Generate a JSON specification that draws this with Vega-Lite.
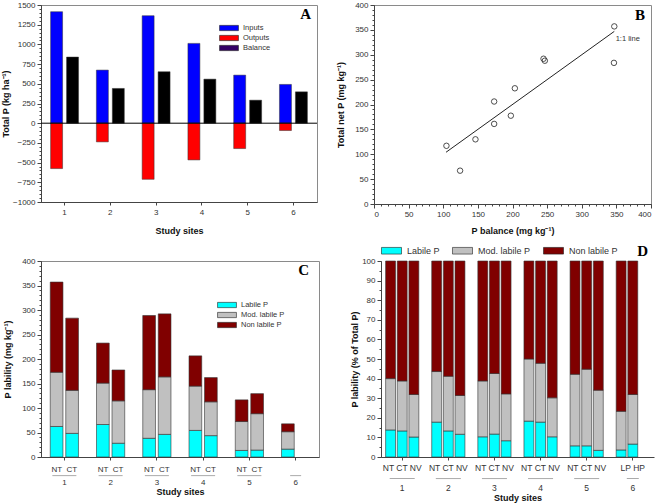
{
  "$schema": "https://vega.github.io/schema/vega-lite/v6.json",
  "background": "white",
  "padding": {"left": 1, "top": 0, "right": 2, "bottom": 2},
  "spacing": 8,
  "resolve": {"scale": {"color": "independent"}, "legend": {"color": "independent"}},
  "datasets": {
    "a": [
      {"site": "1", "flow": "Inputs", "value": 1415}, {"site": "2", "flow": "Inputs", "value": 674},
      {"site": "3", "flow": "Inputs", "value": 1364}, {"site": "4", "flow": "Inputs", "value": 1013},
      {"site": "5", "flow": "Inputs", "value": 610}, {"site": "6", "flow": "Inputs", "value": 492},
      {"site": "1", "flow": "Outputs", "value": -576}, {"site": "2", "flow": "Outputs", "value": -237},
      {"site": "3", "flow": "Outputs", "value": -712}, {"site": "4", "flow": "Outputs", "value": -466},
      {"site": "5", "flow": "Outputs", "value": -322}, {"site": "6", "flow": "Outputs", "value": -93},
      {"site": "1", "flow": "Balance", "value": 839}, {"site": "2", "flow": "Balance", "value": 441},
      {"site": "3", "flow": "Balance", "value": 653}, {"site": "4", "flow": "Balance", "value": 559},
      {"site": "5", "flow": "Balance", "value": 292}, {"site": "6", "flow": "Balance", "value": 398}
    ],
    "b": [
      {"balance": 104.6, "net": 117}, {"balance": 124.3, "net": 67}, {"balance": 146.5, "net": 130},
      {"balance": 173.5, "net": 206}, {"balance": 173.5, "net": 161}, {"balance": 197.6, "net": 177.5},
      {"balance": 203.4, "net": 232.6}, {"balance": 244.8, "net": 292}, {"balance": 246.7, "net": 288},
      {"balance": 347, "net": 357}, {"balance": 346.5, "net": 283.7}
    ],
    "c": [
      {"site": "1", "treatment": "NT", "fraction": "Labile P", "value": 62.3},
      {"site": "1", "treatment": "NT", "fraction": "Mod. labile P", "value": 110.6},
      {"site": "1", "treatment": "NT", "fraction": "Non labile P", "value": 184.1},
      {"site": "1", "treatment": "CT", "fraction": "Labile P", "value": 48.2},
      {"site": "1", "treatment": "CT", "fraction": "Mod. labile P", "value": 87.8},
      {"site": "1", "treatment": "CT", "fraction": "Non labile P", "value": 147.4},
      {"site": "2", "treatment": "NT", "fraction": "Labile P", "value": 66.3},
      {"site": "2", "treatment": "NT", "fraction": "Mod. labile P", "value": 84.5},
      {"site": "2", "treatment": "NT", "fraction": "Non labile P", "value": 81.7},
      {"site": "2", "treatment": "CT", "fraction": "Labile P", "value": 28.1},
      {"site": "2", "treatment": "CT", "fraction": "Mod. labile P", "value": 86.5},
      {"site": "2", "treatment": "CT", "fraction": "Non labile P", "value": 63.0},
      {"site": "3", "treatment": "NT", "fraction": "Labile P", "value": 38.2},
      {"site": "3", "treatment": "NT", "fraction": "Mod. labile P", "value": 99.2},
      {"site": "3", "treatment": "NT", "fraction": "Non labile P", "value": 151.4},
      {"site": "3", "treatment": "CT", "fraction": "Labile P", "value": 46.2},
      {"site": "3", "treatment": "CT", "fraction": "Mod. labile P", "value": 117.3},
      {"site": "3", "treatment": "CT", "fraction": "Non labile P", "value": 128.6},
      {"site": "4", "treatment": "NT", "fraction": "Labile P", "value": 54.3},
      {"site": "4", "treatment": "NT", "fraction": "Mod. labile P", "value": 90.4},
      {"site": "4", "treatment": "NT", "fraction": "Non labile P", "value": 61.7},
      {"site": "4", "treatment": "CT", "fraction": "Labile P", "value": 43.6},
      {"site": "4", "treatment": "CT", "fraction": "Mod. labile P", "value": 69.0},
      {"site": "4", "treatment": "CT", "fraction": "Non labile P", "value": 49.5},
      {"site": "5", "treatment": "NT", "fraction": "Labile P", "value": 13.4},
      {"site": "5", "treatment": "NT", "fraction": "Mod. labile P", "value": 59.0},
      {"site": "5", "treatment": "NT", "fraction": "Non labile P", "value": 44.2},
      {"site": "5", "treatment": "CT", "fraction": "Labile P", "value": 14.1},
      {"site": "5", "treatment": "CT", "fraction": "Mod. labile P", "value": 74.3},
      {"site": "5", "treatment": "CT", "fraction": "Non labile P", "value": 40.9},
      {"site": "6", "treatment": "all", "fraction": "Labile P", "value": 16.1},
      {"site": "6", "treatment": "all", "fraction": "Mod. labile P", "value": 35.5},
      {"site": "6", "treatment": "all", "fraction": "Non labile P", "value": 16.1}
    ],
    "d": [
      {"site": "1", "treatment": "NT", "fraction": "Labile P", "value": 13.8},
      {"site": "1", "treatment": "NT", "fraction": "Mod. labile P", "value": 26.2},
      {"site": "1", "treatment": "NT", "fraction": "Non labile P", "value": 60.0},
      {"site": "1", "treatment": "CT", "fraction": "Labile P", "value": 13.3},
      {"site": "1", "treatment": "CT", "fraction": "Mod. labile P", "value": 25.5},
      {"site": "1", "treatment": "CT", "fraction": "Non labile P", "value": 61.2},
      {"site": "1", "treatment": "NV", "fraction": "Labile P", "value": 10.2},
      {"site": "1", "treatment": "NV", "fraction": "Mod. labile P", "value": 21.7},
      {"site": "1", "treatment": "NV", "fraction": "Non labile P", "value": 68.1},
      {"site": "2", "treatment": "NT", "fraction": "Labile P", "value": 17.8},
      {"site": "2", "treatment": "NT", "fraction": "Mod. labile P", "value": 25.8},
      {"site": "2", "treatment": "NT", "fraction": "Non labile P", "value": 56.4},
      {"site": "2", "treatment": "CT", "fraction": "Labile P", "value": 13.3},
      {"site": "2", "treatment": "CT", "fraction": "Mod. labile P", "value": 27.9},
      {"site": "2", "treatment": "CT", "fraction": "Non labile P", "value": 58.8},
      {"site": "2", "treatment": "NV", "fraction": "Labile P", "value": 11.6},
      {"site": "2", "treatment": "NV", "fraction": "Mod. labile P", "value": 19.8},
      {"site": "2", "treatment": "NV", "fraction": "Non labile P", "value": 68.6},
      {"site": "3", "treatment": "NT", "fraction": "Labile P", "value": 10.3},
      {"site": "3", "treatment": "NT", "fraction": "Mod. labile P", "value": 28.5},
      {"site": "3", "treatment": "NT", "fraction": "Non labile P", "value": 61.2},
      {"site": "3", "treatment": "CT", "fraction": "Labile P", "value": 11.7},
      {"site": "3", "treatment": "CT", "fraction": "Mod. labile P", "value": 30.9},
      {"site": "3", "treatment": "CT", "fraction": "Non labile P", "value": 57.4},
      {"site": "3", "treatment": "NV", "fraction": "Labile P", "value": 8.3},
      {"site": "3", "treatment": "NV", "fraction": "Mod. labile P", "value": 23.9},
      {"site": "3", "treatment": "NV", "fraction": "Non labile P", "value": 67.8},
      {"site": "4", "treatment": "NT", "fraction": "Labile P", "value": 18.3},
      {"site": "4", "treatment": "NT", "fraction": "Mod. labile P", "value": 31.7},
      {"site": "4", "treatment": "NT", "fraction": "Non labile P", "value": 50.0},
      {"site": "4", "treatment": "CT", "fraction": "Labile P", "value": 17.8},
      {"site": "4", "treatment": "CT", "fraction": "Mod. labile P", "value": 30.0},
      {"site": "4", "treatment": "CT", "fraction": "Non labile P", "value": 52.2},
      {"site": "4", "treatment": "NV", "fraction": "Labile P", "value": 10.3},
      {"site": "4", "treatment": "NV", "fraction": "Mod. labile P", "value": 19.9},
      {"site": "4", "treatment": "NV", "fraction": "Non labile P", "value": 69.8},
      {"site": "5", "treatment": "NT", "fraction": "Labile P", "value": 5.7},
      {"site": "5", "treatment": "NT", "fraction": "Mod. labile P", "value": 36.5},
      {"site": "5", "treatment": "NT", "fraction": "Non labile P", "value": 57.8},
      {"site": "5", "treatment": "CT", "fraction": "Labile P", "value": 5.7},
      {"site": "5", "treatment": "CT", "fraction": "Mod. labile P", "value": 39.1},
      {"site": "5", "treatment": "CT", "fraction": "Non labile P", "value": 55.2},
      {"site": "5", "treatment": "NV", "fraction": "Labile P", "value": 3.4},
      {"site": "5", "treatment": "NV", "fraction": "Mod. labile P", "value": 30.7},
      {"site": "5", "treatment": "NV", "fraction": "Non labile P", "value": 65.9},
      {"site": "6", "treatment": "LP", "fraction": "Labile P", "value": 3.6},
      {"site": "6", "treatment": "LP", "fraction": "Mod. labile P", "value": 19.7},
      {"site": "6", "treatment": "LP", "fraction": "Non labile P", "value": 76.7},
      {"site": "6", "treatment": "HP", "fraction": "Labile P", "value": 6.6},
      {"site": "6", "treatment": "HP", "fraction": "Mod. labile P", "value": 25.3},
      {"site": "6", "treatment": "HP", "fraction": "Non labile P", "value": 68.1}
    ]
  },
  "vconcat": [
    {
      "spacing": 18,
      "resolve": {"scale": {"color": "independent"}, "legend": {"color": "independent"}},
      "hconcat": [
        {
          "width": 276,
          "height": 197,
          "title": {"text": "A", "dy": 25, "dx": -6},
          "layer": [
            {
              "data": {"name": "a"},
              "transform": [{"filter": "datum.flow != 'Balance'"}],
              "mark": {"type": "bar", "stroke": "#333", "strokeWidth": 0.5},
              "encoding": {
                "x": {"field": "site", "type": "nominal", "scale": {"domain": ["1", "2", "3", "4", "5", "6"], "paddingInner": 0.39, "paddingOuter": 0.21}, "axis": {"title": "Study sites", "labelAngle": 0, "tickSize": 3, "labelPadding": 3, "titlePadding": 10}},
                "xOffset": {"datum": "left", "scale": {"domain": ["left", "right"], "paddingInner": 0.25, "paddingOuter": 0}},
                "y": {"field": "value", "type": "quantitative", "stack": null, "scale": {"domain": [-1000, 1500], "nice": false}, "axis": {"orient": "left", "title": "Total P (kg ha⁻¹)", "format": "d", "values": [-1000, -750, -500, -250, 0, 250, 500, 750, 1000, 1250, 1500], "titlePadding": 2}},
                "color": {"field": "flow", "type": "nominal", "scale": {"domain": ["Inputs", "Outputs", "Balance"], "range": ["#0000ff", "#ff0000", "#330066"]}, "legend": {"title": null, "orient": "none", "legendX": 184, "legendY": 19, "symbolType": "M-2.7,-0.75H2.7V0.75H-2.7Z", "symbolSize": 49, "rowPadding": 2, "labelOffset": 10, "labelFontSize": 7.5}}
              }
            },
            {
              "data": {"name": "a"},
              "transform": [{"filter": "datum.flow == 'Balance'"}],
              "mark": {"type": "bar", "color": "#000000", "stroke": "#333", "strokeWidth": 0.5},
              "encoding": {
                "x": {"field": "site", "type": "nominal"},
                "xOffset": {"datum": "right"},
                "y": {"field": "value", "type": "quantitative", "stack": null, "axis": null}
              }
            },
            {
              "data": {"values": [{}]},
              "mark": {"type": "rule", "color": "#000000", "strokeWidth": 1},
              "encoding": {
                "y": {"datum": 0, "type": "quantitative", "axis": {"orient": "left", "tickCount": 50, "labels": false, "domain": false, "title": null, "tickSize": 2}}
              }
            }
          ],
          "resolve": {"axis": {"y": "independent"}}
        },
        {
          "width": 277,
          "height": 199,
          "title": {"text": "B", "dy": 26, "dx": -6},
          "layer": [
            {
              "data": {"name": "b"},
              "mark": {"type": "point", "shape": "circle", "filled": false, "stroke": "#222", "strokeWidth": 0.8, "size": 30, "opacity": 1},
              "encoding": {
                "x": {"field": "balance", "type": "quantitative", "scale": {"domain": [0, 400], "nice": false}, "axis": {"orient": "bottom", "title": "P balance (mg kg⁻¹)", "values": [0, 50, 100, 150, 200, 250, 300, 350, 400], "titlePadding": 8}},
                "y": {"field": "net", "type": "quantitative", "scale": {"domain": [0, 400], "nice": false}, "axis": {"orient": "left", "title": "Total net P (mg kg⁻¹)", "values": [0, 50, 100, 150, 200, 250, 300, 350, 400], "titlePadding": 9}}
              }
            },
            {
              "data": {"values": [{"balance": 104, "net": 104}, {"balance": 347, "net": 347}]},
              "mark": {"type": "line", "color": "#222", "strokeWidth": 1},
              "encoding": {
                "x": {"field": "balance", "type": "quantitative", "axis": {"orient": "bottom", "tickCount": 40, "labels": false, "domain": false, "title": null, "tickSize": 2}},
                "y": {"field": "net", "type": "quantitative", "axis": {"orient": "left", "tickCount": 40, "labels": false, "domain": false, "title": null, "tickSize": 2}}
              }
            },
            {
              "data": {"values": [{"label": "1:1 line", "balance": 349, "net": 331}]},
              "mark": {"type": "text", "align": "left", "baseline": "middle", "font": "Liberation Sans", "fontSize": 7.5, "color": "#333"},
              "encoding": {
                "x": {"field": "balance", "type": "quantitative", "axis": null},
                "y": {"field": "net", "type": "quantitative", "axis": null},
                "text": {"field": "label"}
              }
            }
          ],
          "resolve": {"axis": {"x": "independent", "y": "independent"}}
        }
      ]
    },
    {
      "spacing": 30,
      "resolve": {"scale": {"color": "independent"}, "legend": {"color": "independent"}},
      "hconcat": [
        {
          "width": 278,
          "height": 196,
          "title": {"text": "C", "dy": 25, "dx": -10},
          "layer": [
            {
              "data": {"name": "c"},
              "transform": [{"filter": "datum.site != '6'"}],
              "mark": {"type": "bar", "stroke": "#333", "strokeWidth": 0.6},
              "encoding": {
                "x": {"field": "site", "type": "nominal", "scale": {"domain": ["1", "2", "3", "4", "5", "6"], "paddingInner": 0.39, "paddingOuter": 0.2}, "axis": {"orient": "bottom", "title": "Study sites", "labelAngle": 0, "tickSize": 3, "labelPadding": 5, "labelLineHeight": 13, "titlePadding": 1.5, "labelExpr": "datum.value == '6' ? ['', '6\u00a0\u00a0\u00a0\u00a0\u00a0\u00a0'] : ['NT\u00a0\u00a0CT', datum.value]"}},
                "xOffset": {"field": "treatment", "type": "nominal", "scale": {"domain": ["NT", "CT"], "paddingInner": 0.18, "paddingOuter": 0}},
                "y": {"field": "value", "type": "quantitative", "stack": "zero", "scale": {"domain": [0, 400], "nice": false}, "axis": {"orient": "left", "title": "P lability (mg kg⁻¹)", "values": [0, 50, 100, 150, 200, 250, 300, 350, 400], "titlePadding": 9}},
                "color": {"field": "fraction", "type": "nominal", "scale": {"domain": ["Labile P", "Mod. labile P", "Non labile P"], "range": ["#00ffff", "#c0c0c0", "#800000"]}, "legend": {"title": null, "orient": "none", "legendX": 182, "legendY": 40, "symbolType": "M-2.7,-0.75H2.7V0.75H-2.7Z", "symbolSize": 49, "rowPadding": 2, "labelOffset": 10, "labelFontSize": 7.5}},
                "order": {"field": "fraction", "type": "ordinal", "sort": "ascending"}
              }
            },
            {
              "data": {"name": "c"},
              "transform": [{"filter": "datum.site == '6'"}],
              "mark": {"type": "bar", "stroke": "#333", "strokeWidth": 0.6},
              "encoding": {
                "x": {"field": "site", "type": "nominal", "axis": null},
                "xOffset": {"field": "treatment", "type": "nominal", "scale": {"domain": ["all"], "paddingInner": 0.18, "paddingOuter": 0.5, "align": 0}},
                "y": {"field": "value", "type": "quantitative", "stack": "zero", "scale": {"domain": [0, 400], "nice": false}, "axis": {"orient": "left", "tickCount": 40, "labels": false, "domain": false, "title": null, "tickSize": 2}},
                "color": {"field": "fraction", "type": "nominal", "legend": null},
                "order": {"field": "fraction", "type": "ordinal", "sort": "ascending"}
              }
            },
            {
              "data": {"name": "c"},
              "transform": [{"filter": "datum.site != '6' && datum.treatment == 'NT' && datum.fraction == 'Labile P'"}],
              "mark": {"type": "tick", "orient": "horizontal", "color": "#aaaaaa", "size": 24, "thickness": 1, "opacity": 1},
              "encoding": {
                "x": {"field": "site", "type": "nominal", "axis": null},
                "y": {"datum": -38, "type": "quantitative", "scale": {"domain": [0, 400], "nice": false}, "axis": null}
              }
            },
            {
              "data": {"name": "c"},
              "transform": [{"filter": "datum.site == '6' && datum.fraction == 'Labile P'"}],
              "mark": {"type": "tick", "orient": "horizontal", "color": "#aaaaaa", "size": 11, "thickness": 1, "opacity": 1},
              "encoding": {
                "x": {"field": "site", "type": "nominal", "bandPosition": 0.225, "axis": null},
                "y": {"datum": -38, "type": "quantitative", "scale": {"domain": [0, 400], "nice": false}, "axis": null}
              }
            }
          ],
          "resolve": {"scale": {"xOffset": "independent"}, "axis": {"x": "independent", "y": "independent"}}
        },
        {
          "width": 273,
          "height": 196,
          "view": {"stroke": null},
          "title": {"text": "D", "dy": 17, "dx": -6},
          "layer": [
            {
              "data": {"name": "d"},
              "transform": [{"filter": "datum.site != '6'"}],
              "mark": {"type": "bar", "stroke": "#333", "strokeWidth": 0.6},
              "encoding": {
                "x": {"field": "site", "type": "nominal", "scale": {"domain": ["1", "2", "3", "4", "5", "6"], "paddingInner": 0.28, "paddingOuter": 0.1}, "axis": {"orient": "bottom", "title": "Study sites", "labelAngle": 0, "tickSize": 3, "labelPadding": 3, "labelFontSize": 8.5, "labelLineHeight": 20, "titlePadding": 1.5, "labelExpr": "datum.value == '6' ? ['LP HP\u00a0\u00a0\u00a0\u00a0\u00a0', '6\u00a0\u00a0\u00a0\u00a0\u00a0'] : ['NT CT NV', datum.value]"}},
                "xOffset": {"field": "treatment", "type": "nominal", "scale": {"domain": ["NT", "CT", "NV"], "paddingInner": 0.15, "paddingOuter": 0}},
                "y": {"field": "value", "type": "quantitative", "stack": "zero", "scale": {"domain": [0, 100], "nice": false}, "axis": {"orient": "left", "title": "P lability (% of Total P)", "values": [0, 10, 20, 30, 40, 50, 60, 70, 80, 90, 100], "titlePadding": 2}},
                "color": {"field": "fraction", "type": "nominal", "scale": {"domain": ["Labile P", "Mod. labile P", "Non labile P"], "range": ["#00ffff", "#c0c0c0", "#800000"]}, "legend": {"title": null, "orient": "none", "direction": "horizontal", "legendX": 6, "legendY": -15, "symbolType": "M-2.86,-0.95H2.86V0.95H-2.86Z", "symbolSize": 49, "labelOffset": 11, "columnPadding": 11, "labelFontSize": 9}},
                "order": {"field": "fraction", "type": "ordinal", "sort": "ascending"}
              }
            },
            {
              "data": {"name": "d"},
              "transform": [{"filter": "datum.site == '6'"}],
              "mark": {"type": "bar", "stroke": "#333", "strokeWidth": 0.6},
              "encoding": {
                "x": {"field": "site", "type": "nominal", "axis": null},
                "xOffset": {"field": "treatment", "type": "nominal", "scale": {"domain": ["LP", "HP"], "paddingInner": 0.15, "paddingOuter": 0.5, "align": 0}},
                "y": {"field": "value", "type": "quantitative", "stack": "zero", "scale": {"domain": [0, 100], "nice": false}, "axis": {"orient": "left", "tickCount": 20, "labels": false, "domain": false, "title": null, "tickSize": 2}},
                "color": {"field": "fraction", "type": "nominal", "legend": null},
                "order": {"field": "fraction", "type": "ordinal", "sort": "ascending"}
              }
            },
            {
              "data": {"name": "d"},
              "transform": [{"filter": "datum.site != '6' && datum.treatment == 'NT' && datum.fraction == 'Labile P'"}],
              "mark": {"type": "tick", "orient": "horizontal", "color": "#aaaaaa", "size": 25, "thickness": 1, "opacity": 1},
              "encoding": {
                "x": {"field": "site", "type": "nominal", "axis": null},
                "y": {"datum": -11, "type": "quantitative", "scale": {"domain": [0, 100], "nice": false}, "axis": null}
              }
            },
            {
              "data": {"name": "d"},
              "transform": [{"filter": "datum.site == '6' && datum.treatment == 'LP' && datum.fraction == 'Labile P'"}],
              "mark": {"type": "tick", "orient": "horizontal", "color": "#aaaaaa", "size": 12, "thickness": 1, "opacity": 1},
              "encoding": {
                "x": {"field": "site", "type": "nominal", "bandPosition": 0.325, "axis": null},
                "y": {"datum": -11, "type": "quantitative", "scale": {"domain": [0, 100], "nice": false}, "axis": null}
              }
            }
          ],
          "resolve": {"scale": {"xOffset": "independent"}, "axis": {"x": "independent", "y": "independent"}}
        }
      ]
    }
  ],
  "config": {
    "view": {"stroke": "#8a8a8a", "strokeWidth": 1},
    "axis": {"grid": false, "labelFont": "Liberation Sans", "labelFontSize": 8, "labelColor": "#333333", "titleFont": "Liberation Sans", "titleFontSize": 9, "titleFontWeight": "bold", "titleColor": "#111111", "domainColor": "#444444", "tickColor": "#444444", "tickSize": 4, "labelPadding": 2},
    "legend": {"labelFont": "Liberation Sans", "labelColor": "#333333", "symbolStrokeColor": "#222222", "symbolStrokeWidth": 0.6, "symbolOpacity": 1},
    "title": {"font": "Liberation Serif", "fontSize": 15, "fontWeight": "bold", "anchor": "end", "color": "#000000", "frame": "group"}
  }
}
